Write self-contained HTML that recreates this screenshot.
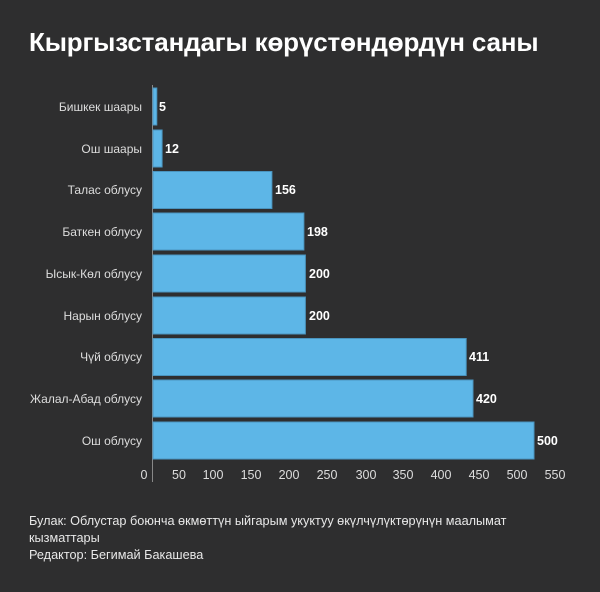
<!DOCTYPE html>
<html><head><meta charset="utf-8"><style>
body{margin:0;width:600px;height:592px;background:#2e2e2f;font-family:"Liberation Sans",sans-serif;overflow:hidden;position:relative;color:#fff}
.t{position:absolute;left:29px;top:27px;font-size:26px;font-weight:bold;letter-spacing:-0.15px;white-space:nowrap}
.f{position:absolute;left:29px;font-size:12.7px;color:#e8e8e8;line-height:17px}
</style></head><body>
<div class="t">Кыргызстандагы көрүстөндөрдүн саны</div>
<svg width="600" height="592" style="position:absolute;left:0;top:0" font-family="Liberation Sans, sans-serif">
<line x1="152.5" y1="85" x2="152.5" y2="482" stroke="#888" stroke-width="1"/>
<g font-size="12" fill="#ddd" text-anchor="end">
<text x="142" y="111">Бишкек шаары</text>
<text x="142" y="153">Ош шаары</text>
<text x="142" y="194">Талас облусу</text>
<text x="142" y="236">Баткен облусу</text>
<text x="142" y="278">Ысык-Көл облусу</text>
<text x="142" y="320">Нарын облусу</text>
<text x="142" y="361">Чүй облусу</text>
<text x="142" y="403">Жалал-Абад облусу</text>
<text x="142" y="445">Ош облусу</text>
</g>
<g fill="#5db6e7" stroke="#4a94bf" stroke-width="1">
<rect x="153" y="88" width="3.8" height="37"/>
<rect x="153" y="130" width="9.1" height="37"/>
<rect x="153" y="171.5" width="118.9" height="37"/>
<rect x="153" y="213" width="150.9" height="37"/>
<rect x="153" y="255" width="152.4" height="37"/>
<rect x="153" y="297" width="152.4" height="37"/>
<rect x="153" y="338.5" width="313.2" height="37"/>
<rect x="153" y="380" width="320" height="37"/>
<rect x="153" y="422" width="381" height="37"/>
</g>
<g font-size="12.5" font-weight="bold" fill="#fff">
<text x="159" y="111">5</text>
<text x="165" y="153">12</text>
<text x="275" y="194">156</text>
<text x="307" y="236">198</text>
<text x="309" y="278">200</text>
<text x="309" y="320">200</text>
<text x="469" y="361">411</text>
<text x="476" y="403">420</text>
<text x="537" y="445">500</text>
</g>
<g font-size="12.5" fill="#ddd" text-anchor="middle">
<text x="144" y="479">0</text><text x="179" y="479">50</text><text x="213" y="479">100</text><text x="251" y="479">150</text><text x="289" y="479">200</text><text x="327" y="479">250</text><text x="366" y="479">300</text><text x="403" y="479">350</text><text x="441" y="479">400</text><text x="479" y="479">450</text><text x="517" y="479">500</text><text x="555" y="479">550</text>
</g>
</svg>
<div class="f" style="top:513px">Булак: Облустар боюнча өкмөттүн ыйгарым укуктуу өкүлчүлүктөрүнүн маалымат<br>кызматтары</div>
<div class="f" style="top:547px">Редактор: Бегимай Бакашева</div>
</body></html>
